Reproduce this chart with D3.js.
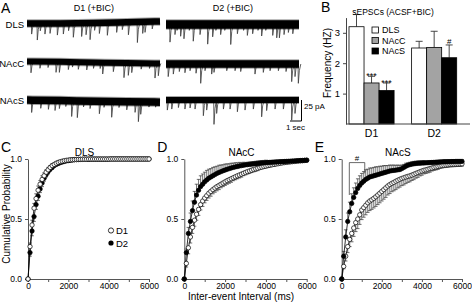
<!DOCTYPE html>
<html>
<head>
<meta charset="utf-8">
<script src="https://cdn.jsdelivr.net/npm/d3@7"></script>
<style>
body { margin: 0; background: #fff; }
text { font-family: "Liberation Sans", Arial, sans-serif; fill: #000; }
</style>
</head>
<body>
<svg width="472" height="302"></svg>
<script>
// ---- data ----
// A: sample traces, events as [time (s), amplitude (pA)], drift in pA at t = 0,3,6,9,12 s
var dlsD1Events = [[0.42,12.5],[0.93,19.6],[1.2,8.6],[1.62,12.5],[2.08,11.7],[2.74,13.7],[3.28,12.5],[3.75,8.6],[4.18,16.5],[4.93,15.7],[5.33,13.7],[5.69,19.6],[6.1,8.6],[6.53,12.5],[7.25,14.9],[8.09,11.7],[8.6,8.6],[9.15,14.9],[9.96,24.4],[10.44,13.7],[10.65,12.5],[11.3,8.6]];
var dlsD2Events = [[0.36,21],[0.81,12],[1.0,7],[1.32,14],[1.62,17],[2.1,7],[2.46,19.9],[3.07,12],[3.76,23.4],[4.21,14.7],[4.5,7],[4.93,12],[5.3,7],[5.84,23.8],[6.44,11],[7.0,7],[7.34,13],[7.82,11],[8.3,7],[8.63,13.7],[9.0,7],[9.63,13],[9.99,15.9],[10.23,15.9],[10.65,12],[11.04,9.5],[11.44,11]];
var naccD1Events = [[0.36,13.5],[1.17,8],[1.9,7],[2.62,12.6],[2.92,12.6],[3.73,9],[4.1,6],[4.63,8.5],[5.39,9],[6.0,7],[6.6,7],[6.83,13.5],[7.79,10.5],[8.75,17.4],[9.14,14.6],[9.45,11.3],[10.3,7],[11.05,6],[11.55,17.4],[11.85,14.6]];
var naccD2Events = [[0.2,15],[0.66,12],[1.2,9],[1.71,10.4],[2.17,8],[2.71,11],[3.13,23],[3.52,8],[4.12,12],[4.33,10],[5.48,8],[6.23,8],[6.74,9],[8.03,12],[8.78,10],[9.39,8],[10.14,8],[10.83,9],[11.34,21],[11.64,15],[11.94,23]];
var nacsD1Events = [[0.42,14.7],[1.24,9.6],[1.93,10.7],[2.53,12],[2.92,9.6],[3.5,7],[4.03,18.7],[4.54,19.9],[5.1,7],[5.69,8.7],[6.53,14.7],[6.95,7],[7.64,18.7],[8.3,7],[9.0,9.6],[9.75,12.5],[10.05,23.5],[10.26,14.7],[11.0,6],[11.6,6]];
var nacsD2Events = [[0.12,12],[0.52,10.8],[1.12,9],[1.71,10.8],[2.17,9.5],[2.62,10.8],[3.37,18.7],[3.67,12],[4.33,29],[4.57,16],[5.18,10.8],[5.78,10.8],[6.44,14],[7.13,12],[7.88,10.8],[8.63,20],[9.08,12.6],[9.84,10.8],[10.59,10.8],[11.34,24],[11.64,16]];
var driftTimes = [0, 3, 6, 9, 12];
var dlsD1Drift = [0.5, 0.5, 1, 2, 3];
var dlsD2Drift = [0, 0, 0, 0, 0];
var naccD1Drift = [2.5, 2, 1.2, 0.5, 0];
var naccD2Drift = [0, 0, 0, 0, 0];
var nacsD1Drift = [0.5, 0, -1, -1.5, -2];
var nacsD2Drift = [0, 0, 0, 0, 0];

// B: mean sEPSC frequency (Hz) and SEM
var regions = ["DLS", "NAcC", "NAcS"];
var receptors = ["D1", "D2"];
var freqD1 = [3.2, 1.35, 1.1];
var semD1 = [0.4, 0.22, 0.25];
var freqD2 = [2.5, 2.52, 2.18];
var semD2 = [0.22, 0.53, 0.42];

// C-E: cumulative probability of inter-event interval, 100 ms bins 0..6000
var binMs = d3.range(0, 6001, 100);
var dlsD1 = [0,.27,.45,.59,.67,.74,.79,.83,.86,.89,.91,.93,.945,.955,.965,.972,.978,.982,.986,.989,.991,.993,.994,.995,.996,.997,.997,.998,.998,.998,.999,
  .999,.999,.999,.999,.999,.999,.999,.999,.999,.999,1,1,1,1,1,1,1,1,1,1,1,1,1,1,1,1,1,1,1,1];
var dlsD1Err = [0,.03,.04,.04,.04,.035,.03,.03,.025,.02,.02,.015,.015,.01,.01,.01,.008,.006,.005,.004,.003,0,0,0,0,0,0,0,0,0,0,
  0,0,0,0,0,0,0,0,0,0,0,0,0,0,0,0,0,0,0,0,0,0,0,0,0,0,0,0,0,0];
var dlsD2 = [0,.22,.40,.52,.62,.69,.75,.80,.84,.87,.895,.915,.93,.945,.955,.963,.97,.975,.98,.984,.987,.99,.992,.994,.995,.996,.997,.997,.998,.998,.998,
  .999,.999,.999,.999,.999,.999,.999,.999,.999,.999,1,1,1,1,1,1,1,1,1,1,1,1,1,1,1,1,1,1,1,1];
var dlsD2Err = [0,.03,.04,.04,.04,.035,.03,.03,.025,.02,.02,.015,.015,.01,.01,.01,.008,.006,.005,.004,.003,0,0,0,0,0,0,0,0,0,0,
  0,0,0,0,0,0,0,0,0,0,0,0,0,0,0,0,0,0,0,0,0,0,0,0,0,0,0,0,0,0];
var naccD1 = [0,.13,.26,.35,.43,.49,.54,.58,.62,.65,.675,.695,.715,.73,.745,.758,.77,.78,.79,.80,.81,.82,.828,.836,.844,.852,.86,.867,.874,.881,.888,
  .895,.901,.907,.913,.918,.923,.928,.933,.937,.941,.945,.949,.952,.955,.958,.961,.964,.967,.97,.972,.974,.976,.978,.98,.982,.984,.985,.986,.988,.99];
var naccD1Err = [0,.03,.05,.05,.05,.05,.05,.05,.045,.045,.04,.04,.04,.04,.035,.035,.035,.035,.03,.03,.03,.03,.03,.03,.025,.025,.025,.025,.025,.02,.02,
  .02,.02,.02,.02,.02,.02,.015,.015,.015,.015,.015,.015,.015,.015,.01,.01,.01,.01,.01,.01,.01,.01,.01,.01,.01,.01,.01,.01,.01,.01];
var naccD2 = [0,.22,.38,.48,.57,.64,.70,.74,.77,.79,.81,.825,.84,.85,.86,.87,.88,.888,.895,.902,.908,.914,.92,.925,.93,.934,.938,.942,.945,.948,.951,
  .953,.955,.957,.959,.961,.963,.965,.967,.968,.97,.971,.972,.973,.974,.975,.976,.977,.978,.979,.98,.981,.982,.983,.984,.985,.986,.987,.988,.989,.99];
var naccD2Err = [0,.03,.05,.07,.08,.09,.09,.09,.09,.085,.08,.08,.075,.07,.07,.065,.06,.06,.055,.05,.05,.045,.04,.04,.035,.035,.03,.03,.025,.025,.02,
  .02,.02,.02,.02,.02,.02,.02,.02,.02,.02,.015,.015,.015,.015,.015,.015,.015,.015,.015,.015,.01,.01,.01,.01,.01,.01,.01,.01,.01,.01];
var nacsD1 = [0,.105,.19,.27,.33,.38,.425,.47,.50,.535,.575,.595,.615,.635,.65,.66,.672,.685,.70,.715,.73,.745,.76,.775,.787,.797,.805,.815,.823,.831,.838,
  .844,.85,.855,.86,.866,.873,.88,.887,.894,.90,.906,.91,.915,.92,.925,.93,.934,.938,.942,.945,.948,.95,.952,.954,.955,.956,.957,.958,.959,.96];
var nacsD1Err = [0,.02,.04,.05,.06,.07,.07,.075,.08,.08,.08,.08,.08,.08,.08,.08,.08,.08,.08,.08,.08,.08,.08,.075,.075,.07,.07,.07,.065,.065,.06,
  .06,.055,.05,.05,.045,.045,.04,.04,.035,.035,.03,.03,.03,.03,.025,.025,.025,.025,.02,.02,.02,.02,.02,.02,.02,.02,.02,.02,.02,.02];
var nacsD2 = [0,.19,.35,.48,.56,.63,.68,.72,.755,.78,.80,.815,.83,.84,.85,.855,.86,.865,.87,.875,.88,.885,.89,.895,.90,.903,.905,.907,.91,.912,.92,
  .93,.94,.948,.953,.957,.96,.962,.964,.965,.966,.967,.968,.969,.97,.971,.972,.973,.974,.975,.976,.977,.977,.978,.978,.979,.979,.98,.98,.98,.98];
var nacsD2Err = [0,.04,.06,.07,.08,.08,.08,.08,.08,.08,.08,.08,.08,.075,.075,.07,.07,.07,.065,.065,.06,.06,.055,.05,.05,.045,.045,.04,.04,.035,.03,
  .025,.025,.02,.02,.02,.02,.02,.02,.02,.02,.02,.015,.015,.015,.015,.015,.015,.015,.015,.015,.015,.015,.015,.015,.015,.015,.015,.015,.015,.015];

var svg = d3.select("svg");

function label(g, x, y, txt, size, anchor) {
  return g.append("text").attr("x", x).attr("y", y)
    .attr("font-size", size).attr("text-anchor", anchor || "start").text(txt);
}

// ---------------- A: traces ----------------
var gA = svg.append("g");
var tScale1 = d3.scaleLinear().domain([0, 12]).range([27, 160]);
var tScale2 = d3.scaleLinear().domain([0, 12]).range([166, 299]);
var pA = d3.scaleLinear().domain([0, 25]).range([0, 21]);

var traces = [
  {row: 24, t: tScale1, ev: dlsD1Events, drift: dlsD1Drift, w: 6.5},
  {row: 24.5, t: tScale2, ev: dlsD2Events, drift: dlsD2Drift, w: 8.5},
  {row: 63.5, t: tScale1, ev: naccD1Events, drift: naccD1Drift, w: 6},
  {row: 64, t: tScale2, ev: naccD2Events, drift: naccD2Drift, w: 7.5},
  {row: 100.5, t: tScale1, ev: nacsD1Events, drift: nacsD1Drift, w: 7.5},
  {row: 100, t: tScale2, ev: nacsD2Events, drift: nacsD2Drift, w: 6}
];

traces.forEach(function(tr) {
  var base = d3.scaleLinear().domain(driftTimes).range(tr.drift.map(function(d) { return tr.row - pA(d); }));
  var line = d3.line().x(function(d) { return tr.t(d); }).y(function(d) { return base(d); }).curve(d3.curveBasis);
  gA.selectAll(null).data(tr.ev).enter().append("path")
    .attr("d", function(d) {
      var x = tr.t(d[0]), y = base(d[0]);
      return "M" + (x - 0.3) + "," + y + "L" + x + "," + (y + pA(d[1])) +
        "L" + (x + 1) + "," + (y + pA(d[1]) * 0.35) + "L" + (x + 2.5) + "," + y;
    })
    .attr("fill", "none").attr("stroke", "#3a3a3a").attr("stroke-width", 0.8);
  gA.append("path").datum(driftTimes)
    .attr("d", line).attr("fill", "none")
    .attr("stroke", "#000").attr("stroke-width", tr.w);
  // soft fuzzy edges of the noise band
  gA.append("path").datum(driftTimes)
    .attr("d", line).attr("fill", "none")
    .attr("stroke", "#000").attr("stroke-opacity", 0.35).attr("stroke-width", tr.w + 2);
});

label(gA, 1, 13, "A", 14);
label(gA, 94, 11, "D1 (+BIC)", 9, "middle");
label(gA, 233, 11, "D2 (+BIC)", 9, "middle");
label(gA, 24, 28, "DLS", 9.5, "end");
label(gA, 24, 67, "NAcC", 9.5, "end");
label(gA, 24, 104, "NAcS", 9.5, "end");

// scale bar
gA.append("path").attr("d", "M290,121H301.5V" + (121 - pA(25)))
  .attr("fill", "none").attr("stroke", "#000").attr("stroke-width", 1);
label(gA, 304, 109, "25 pA", 8);
label(gA, 295.5, 130, "1 sec", 8, "middle");

// ---------------- B: bar chart ----------------
var gB = svg.append("g");
var yB = d3.scaleLinear().domain([0, 3.5]).range([124, 17.6]);
var x0 = d3.scaleBand().domain(receptors).range([349, 456.7]).paddingInner(0.28);
var x1 = d3.scaleBand().domain(regions).range([0, x0.bandwidth()]);
var fills = {DLS: "#fff", NAcC: "#a3a3a3", NAcS: "#000"};

var barData = [];
regions.forEach(function(r, i) {
  barData.push({rec: "D1", reg: r, v: freqD1[i], e: semD1[i]});
  barData.push({rec: "D2", reg: r, v: freqD2[i], e: semD2[i]});
});
function barX(d) { return x0(d.rec) + x1(d.reg) + x1.bandwidth() / 2; }

var bars = gB.selectAll(".bar").data(barData).enter().append("g");
bars.append("path")
  .attr("d", function(d) {
    var cx = barX(d);
    return "M" + cx + "," + yB(d.v) + "V" + yB(d.v + d.e) + "M" + (cx - 3.5) + "," + yB(d.v + d.e) + "H" + (cx + 3.5);
  })
  .attr("stroke", "#333").attr("stroke-width", 0.9).attr("fill", "none");
bars.append("rect")
  .attr("x", function(d) { return x0(d.rec) + x1(d.reg); })
  .attr("y", function(d) { return yB(d.v); })
  .attr("width", x1.bandwidth())
  .attr("height", function(d) { return yB(0) - yB(d.v); })
  .attr("fill", function(d) { return fills[d.reg]; })
  .attr("stroke", "#000").attr("stroke-width", 0.8);

var yAxB = gB.append("g").attr("transform", "translate(346,0)")
  .call(d3.axisLeft(yB).tickValues([1, 2, 3]).tickFormat(d3.format("d")).tickSize(3).tickSizeOuter(0));
var xAxB = gB.append("g").attr("transform", "translate(0,124)")
  .call(d3.axisBottom(x0).tickSize(0).tickPadding(6));
xAxB.select(".domain").attr("d", "M346,0H470");
[yAxB, xAxB].forEach(function(a) {
  a.selectAll("text").attr("font-size", 9.5).attr("fill", "#000")
    .attr("font-family", "Liberation Sans, Arial, sans-serif");
  a.selectAll("path,line").attr("stroke", "#444");
});
xAxB.selectAll("text").attr("font-size", 10.5);

// significance marks
function pick(rec, reg) { return barData.filter(function(d) { return d.rec === rec && d.reg === reg; })[0]; }
var nacc1 = pick("D1", "NAcC"), nacs1 = pick("D1", "NAcS"), nacs2 = pick("D2", "NAcS");
label(gB, barX(nacc1), yB(nacc1.v + nacc1.e) + 3, "***", 9, "middle");
label(gB, barX(nacs1), yB(nacs1.v + nacs1.e) + 3, "***", 9, "middle");
label(gB, barX(nacs2), yB(nacs2.v + nacs2.e) - 1, "#", 8, "middle");

label(gB, 321, 12, "B", 14);
label(gB, 393, 15, "sEPSCs (ACSF+BIC)", 8.5, "middle");
gB.append("text").attr("transform", "translate(331,63) rotate(-90)")
  .attr("text-anchor", "middle").attr("font-size", 10).text("Frequency (HZ)");

var leg = gB.selectAll(".leg").data(regions).enter().append("g")
  .attr("transform", function(d, i) { return "translate(372," + (27 + i * 10.5) + ")"; });
leg.append("rect").attr("width", 6.5).attr("height", 6)
  .attr("fill", function(d) { return fills[d]; }).attr("stroke", "#000").attr("stroke-width", 0.8);
leg.append("text").attr("x", 10).attr("y", 6).attr("font-size", 9).text(function(d) { return d; });

// ---------------- C-E: cumulative probability ----------------
var yC = d3.scaleLinear().domain([0, 1]).range([279, 159]);

function cdfPanel(letter, title, xr, series) {
  var g = svg.append("g");
  var x = d3.scaleLinear().domain([0, 6000]).range(xr);
  var ax = g.append("g").attr("transform", "translate(0,279)")
    .call(d3.axisBottom(x).tickValues(d3.range(0, 6001, 1000))
      .tickFormat(function(d) { return d % 2000 === 0 ? d : ""; }).tickSize(3).tickPadding(1).tickSizeOuter(0));
  var ay = g.append("g").attr("transform", "translate(" + xr[0] + ",0)")
    .call(d3.axisLeft(yC).tickValues([0, 0.5, 1]).tickFormat(d3.format(".1f")).tickSize(3).tickSizeOuter(0));
  [ax, ay].forEach(function(a) {
    a.selectAll("text").attr("font-size", 8.5).attr("fill", "#000")
      .attr("font-family", "Liberation Sans, Arial, sans-serif");
    a.selectAll("path,line").attr("stroke", "#555");
  });

  series.forEach(function(s) {
    var pts = binMs.map(function(t, i) { return {t: t, v: s.vals[i], e: s.err[i]}; });
    g.selectAll(null).data(pts.filter(function(p) { return p.e > 0; })).enter().append("path")
      .attr("d", function(p) {
        var cx = x(p.t), y2 = yC(p.v + s.dir * p.e);
        return "M" + cx + "," + yC(p.v) + "V" + y2 + "M" + (cx - 1.8) + "," + y2 + "H" + (cx + 1.8);
      })
      .attr("stroke", "#333").attr("stroke-width", 0.7).attr("fill", "none");
    g.append("path").datum(pts)
      .attr("d", d3.line().x(function(p) { return x(p.t); }).y(function(p) { return yC(p.v); }))
      .attr("fill", "none").attr("stroke", "#000").attr("stroke-width", 0.8);
  });
  series.forEach(function(s) {
    g.selectAll(null).data(binMs.map(function(t, i) { return {t: t, v: s.vals[i]}; })).enter().append("circle")
      .attr("cx", function(p) { return x(p.t); })
      .attr("cy", function(p) { return yC(p.v); })
      .attr("r", 2.2)
      .attr("fill", s.filled ? "#000" : "#fff")
      .attr("stroke", "#000").attr("stroke-width", 0.7);
  });

  label(g, xr[0] - 27, 152, letter, 14);
  label(g, (xr[0] + xr[1]) / 2 - 4, 156, title, 10, "middle");
  return {g: g, x: x};
}

var pC = cdfPanel("C", "DLS", [28, 149], [
  {vals: dlsD2, err: dlsD2Err, dir: -1, filled: true},
  {vals: dlsD1, err: dlsD1Err, dir: 1, filled: false}
]);
var pD = cdfPanel("D", "NAcC", [184.3, 306.7], [
  {vals: naccD1, err: naccD1Err, dir: -1, filled: false},
  {vals: naccD2, err: naccD2Err, dir: 1, filled: true}
]);
var pE = cdfPanel("E", "NAcS", [341.7, 462], [
  {vals: nacsD1, err: nacsD1Err, dir: -1, filled: false},
  {vals: nacsD2, err: nacsD2Err, dir: 1, filled: true}
]);

// legend in C
var legC = pC.g.append("g");
legC.append("circle").attr("cx", 111).attr("cy", 230.5).attr("r", 2.6).attr("fill", "#fff").attr("stroke", "#000").attr("stroke-width", 0.8);
legC.append("circle").attr("cx", 111).attr("cy", 243).attr("r", 2.6).attr("fill", "#000");
label(legC, 116, 234, "D1", 9.5);
label(legC, 116, 246.5, "D2", 9.5);

svg.append("text").attr("transform", "translate(10,214) rotate(-90)")
  .attr("text-anchor", "middle").attr("font-size", 10).text("Cumulative Probability");
label(svg, 241, 300, "Inter-event Interval (ms)", 10, "middle");

// bracket with # in E
var bx = pE.x;
pE.g.append("path")
  .attr("d", "M" + bx(380) + "," + yC(0.70) + "V" + yC(0.97) + "H" + bx(1150) + "V" + yC(0.88))
  .attr("fill", "none").attr("stroke", "#444").attr("stroke-width", 0.8);
label(pE.g, (bx(380) + bx(1150)) / 2, yC(0.97) - 1.5, "#", 8, "middle");
</script>
</body>
</html>
